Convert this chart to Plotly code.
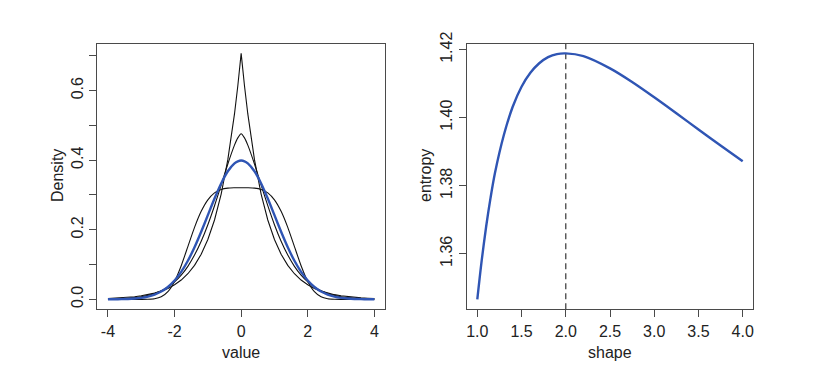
import plotly.graph_objects as go

# ---- left panel: densities ----
value = [-4.0, -3.8, -3.6, -3.4, -3.2, -3.0, -2.8, -2.6, -2.4, -2.2, -2.0,
         -1.8, -1.6, -1.4, -1.2, -1.0, -0.8, -0.6, -0.4, -0.2, -0.1, 0.0,
         0.1, 0.2, 0.4, 0.6, 0.8, 1.0, 1.2, 1.4, 1.6, 1.8, 2.0,
         2.2, 2.4, 2.6, 2.8, 3.0, 3.2, 3.4, 3.6, 3.8, 4.0]

dens_shape1 = [0.0025, 0.0033, 0.0043, 0.0058, 0.0076, 0.0102, 0.0135, 0.0179, 0.0237, 0.0315, 0.0418,
               0.0555, 0.0736, 0.0976, 0.1296, 0.1719, 0.2281, 0.3027, 0.4016, 0.5329, 0.6138, 0.7071,
               0.6138, 0.5329, 0.4016, 0.3027, 0.2281, 0.1719, 0.1296, 0.0976, 0.0736, 0.0555, 0.0418,
               0.0315, 0.0237, 0.0179, 0.0135, 0.0102, 0.0076, 0.0058, 0.0043, 0.0033, 0.0025]

dens_shape15 = [0.0008, 0.0013, 0.0021, 0.0032, 0.0050, 0.0076, 0.0114, 0.0169, 0.0246, 0.0354, 0.0500,
                0.0695, 0.0949, 0.1272, 0.1670, 0.2146, 0.2692, 0.3287, 0.3891, 0.4433, 0.4642, 0.4760,
                0.4642, 0.4433, 0.3891, 0.3287, 0.2692, 0.2146, 0.1670, 0.1272, 0.0949, 0.0695, 0.0500,
                0.0354, 0.0246, 0.0169, 0.0114, 0.0076, 0.0050, 0.0032, 0.0021, 0.0013, 0.0008]

dens_shape2 = [0.0001, 0.0003, 0.0006, 0.0012, 0.0024, 0.0044, 0.0079, 0.0136, 0.0224, 0.0355, 0.0540,
               0.0790, 0.1109, 0.1497, 0.1942, 0.2420, 0.2897, 0.3332, 0.3683, 0.3910, 0.3969, 0.3989,
               0.3969, 0.3910, 0.3683, 0.3332, 0.2897, 0.2420, 0.1942, 0.1497, 0.1109, 0.0790, 0.0540,
               0.0355, 0.0224, 0.0136, 0.0079, 0.0044, 0.0024, 0.0012, 0.0006, 0.0003, 0.0001]

dens_shape4 = [0.0, 0.0, 0.0, 0.0, 0.0, 0.00003, 0.0003, 0.0017, 0.0072, 0.0221, 0.0515,
               0.0967, 0.1517, 0.2068, 0.2530, 0.2861, 0.3061, 0.3160, 0.3198, 0.3206, 0.3207, 0.3207,
               0.3207, 0.3206, 0.3198, 0.3160, 0.3061, 0.2861, 0.2530, 0.2068, 0.1517, 0.0967, 0.0515,
               0.0221, 0.0072, 0.0017, 0.0003, 0.00003, 0.0, 0.0, 0.0, 0.0, 0.0]

# ---- right panel: entropy vs shape ----
shape = [1.0, 1.05, 1.1, 1.15, 1.2, 1.3, 1.4, 1.5, 1.6, 1.7, 1.8, 1.9, 2.0,
         2.2, 2.5, 2.75, 3.0, 3.25, 3.5, 3.75, 4.0]
entropy = [1.3466, 1.3581, 1.3680, 1.3765, 1.3838, 1.3949, 1.4032, 1.4091, 1.4132, 1.4160,
           1.4178, 1.4187, 1.4189, 1.4181, 1.4145, 1.4105, 1.4060, 1.4013, 1.3965, 1.3918, 1.3872]
max_shape = 2.0

left_yticks = [0.0, 0.1, 0.2, 0.3, 0.4, 0.5, 0.6, 0.7]
left_ylabels = ["0.0", "", "0.2", "", "0.4", "", "0.6", ""]
left_xticks = [-4, -2, 0, 2, 4]
right_xticks = [1.0, 1.5, 2.0, 2.5, 3.0, 3.5, 4.0]
right_yticks = [1.36, 1.38, 1.40, 1.42]

BLUE = "#2F55B4"
FRAME = "#4a4a4a"
FONT = "Liberation Sans, Arial, sans-serif"

# page body has an 8px margin: figure is sized to fit inside the window
W, H, OFF = 807, 383, 8


def px(x):
    return (x - OFF) / W


def py(y):
    return 1 - (y - OFF) / H


fig = go.Figure()
for ys in (dens_shape15, dens_shape4):
    fig.add_trace(go.Scatter(x=value, y=ys, mode="lines", line=dict(color="#111111", width=1.1, shape="spline", smoothing=0.6),
                             xaxis="x", yaxis="y", showlegend=False))
fig.add_trace(go.Scatter(x=value, y=dens_shape1, mode="lines", line=dict(color="#111111", width=1.1),
                         xaxis="x", yaxis="y", showlegend=False))
fig.add_trace(go.Scatter(x=value, y=dens_shape2, mode="lines", line=dict(color=BLUE, width=2.4, shape="spline", smoothing=0.6),
                         xaxis="x", yaxis="y", showlegend=False))

fig.add_trace(go.Scatter(x=[max_shape, max_shape], y=[1.3437, 1.4218], mode="lines",
                         line=dict(color="#444444", width=1.3, dash="6px,4px"),
                         xaxis="x2", yaxis="y2", showlegend=False))
fig.add_trace(go.Scatter(x=shape, y=entropy, mode="lines", line=dict(color=BLUE, width=2.4, shape="spline", smoothing=0.9),
                         xaxis="x2", yaxis="y2", showlegend=False))

axis_common = dict(showline=True, mirror=True, linecolor=FRAME, linewidth=1.3, ticks="outside",
                   ticklen=7, tickwidth=1, tickcolor=FRAME, showgrid=False, zeroline=False,
                   automargin=False,
                   tickfont=dict(family=FONT, size=16, color="#222222"))

ydom = [py(309.2), py(43.5)]
fig.update_layout(
    width=W, height=H, margin=dict(l=0, r=0, t=0, b=0, pad=0, autoexpand=False),
    paper_bgcolor="white", plot_bgcolor="white",
    xaxis=dict(domain=[px(97.3), px(385.0)], range=[-4.32, 4.32], tickvals=left_xticks,
               ticktext=[str(v) for v in left_xticks], anchor="y", **axis_common),
    yaxis=dict(domain=ydom, range=[-0.0283, 0.7354], tickvals=left_yticks,
               ticktext=left_ylabels, tickangle=-90, anchor="x", **axis_common),
    xaxis2=dict(domain=[px(466.7), px(753.3)], range=[0.88, 4.12], tickvals=right_xticks,
                ticktext=["%.1f" % v for v in right_xticks], anchor="y2", **axis_common),
    yaxis2=dict(domain=ydom, range=[1.3437, 1.4218], tickvals=right_yticks,
                ticktext=["%.2f" % v for v in right_yticks], tickangle=-90, anchor="x2", **axis_common),
)

title_font = dict(family=FONT, size=16, color="#222222")
fig.add_annotation(text="value", xref="paper", yref="paper", x=px(241), y=py(352),
                   showarrow=False, font=title_font, xanchor="center", yanchor="middle")
fig.add_annotation(text="shape", xref="paper", yref="paper", x=px(610), y=py(352),
                   showarrow=False, font=title_font, xanchor="center", yanchor="middle")
fig.add_annotation(text="Density", xref="paper", yref="paper", x=px(57), y=py(176),
                   showarrow=False, font=title_font, textangle=-90, xanchor="center", yanchor="middle")
fig.add_annotation(text="entropy", xref="paper", yref="paper", x=px(425), y=py(176),
                   showarrow=False, font=title_font, textangle=-90, xanchor="center", yanchor="middle")

fig.write_html("out.html")
